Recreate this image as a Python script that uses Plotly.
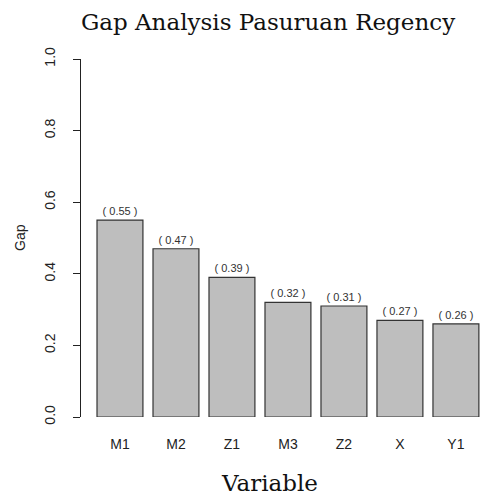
import plotly.graph_objects as go

categories = ["M1", "M2", "Z1", "M3", "Z2", "X", "Y1"]
gap_values = [0.55, 0.47, 0.39, 0.32, 0.31, 0.27, 0.26]
value_labels = ["( %.2f )" % v for v in gap_values]
y_ticks = [0.0, 0.2, 0.4, 0.6, 0.8, 1.0]
y_tick_text = ["0.0", "0.2", "0.4", "0.6", "0.8", "1.0"]

W, H = 480, 500

fig = go.Figure(go.Bar(
    x=list(range(len(categories))),
    y=gap_values,
    marker=dict(color="#BEBEBE", line=dict(color="#333333", width=1.2)),
    text=value_labels,
    textposition="outside",
    textfont=dict(family="Liberation Sans, Arial", size=11, color="#333333"),
    cliponaxis=False,
    hoverinfo="skip",
))

fig.update_layout(
    width=W, height=H,
    margin=dict(l=81, r=0, t=59, b=83, autoexpand=False),
    paper_bgcolor="white", plot_bgcolor="white",
    bargap=0.18,
    showlegend=False,
    title=dict(text="Gap Analysis Pasuruan Regency", x=268 / W, xanchor="center",
               xref="container", y=1 - 22 / H, yanchor="middle", yref="container",
               font=dict(family="DejaVu Serif, serif", size=23, color="#111111")),
    xaxis=dict(range=[-0.696, 6.43], tickmode="array", tickvals=list(range(len(categories))),
               ticktext=categories, showgrid=False, zeroline=False, showline=False,
               ticks="", ticklabelstandoff=17,
               tickfont=dict(family="Liberation Sans, Arial", size=14, color="#222222")),
    yaxis=dict(range=[0, 1], tickmode="array", tickvals=y_ticks, ticktext=y_tick_text,
               showgrid=False, zeroline=False, showline=True, linecolor="#222222", linewidth=1,
               ticks="outside", ticklen=7, tickcolor="#222222", tickangle=-90,
               ticklabelstandoff=12,
               tickfont=dict(family="Liberation Sans, Arial", size=14, color="#222222")),
    annotations=[
        dict(text="Variable", xref="paper", yref="paper", x=(269 - 81) / 399, y=-(483 - 417) / 358,
             xanchor="center", yanchor="middle", showarrow=False,
             font=dict(family="DejaVu Serif, serif", size=23, color="#111111")),
        dict(text="Gap", xref="paper", yref="paper", x=-(81 - 20) / 399, y=0.5, textangle=-90,
             xanchor="center", yanchor="middle", showarrow=False,
             font=dict(family="Liberation Sans, Arial", size=14, color="#222222")),
    ],
)

fig.write_html("out.html",
               config={"displayModeBar": False, "staticPlot": True},
               post_script="document.body.style.margin='0';document.body.style.overflow='hidden';")
